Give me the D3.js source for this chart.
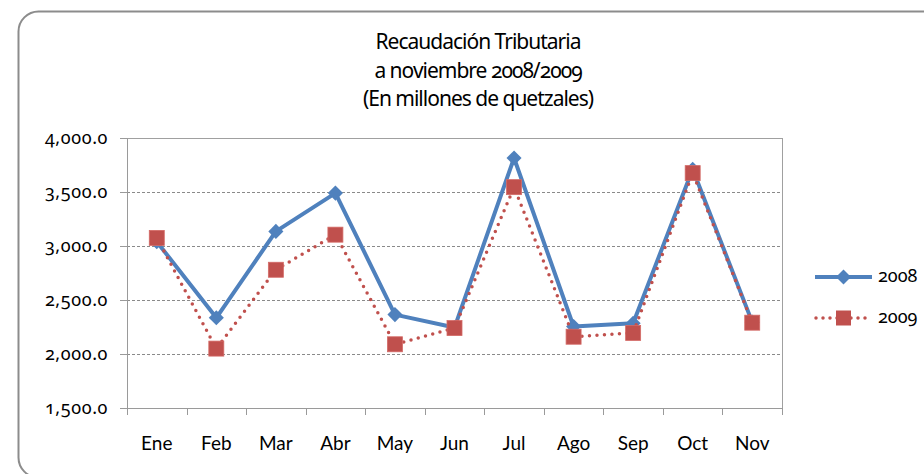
<!DOCTYPE html>
<html>
<head>
<meta charset="utf-8">
<script src="https://cdn.jsdelivr.net/npm/d3@7"></script>
<style>
  body { margin: 0; background: #fff; }
  text { font-family: Lato, "Open Sans", sans-serif; fill: #000; }
  .num { font-family: "Noto Sans", sans-serif; font-variant-numeric: oldstyle-nums; font-feature-settings: "onum"; }
  .title { font-size: 21px; letter-spacing: -1px; }
</style>
</head>
<body>
<div id="chart"></div>
<script>
var svgWidth = 924;
var svgHeight = 474;

var months = ["Ene", "Feb", "Mar", "Abr", "May", "Jun", "Jul", "Ago", "Sep", "Oct", "Nov"];
var values2008 = [3040, 2335, 3135, 3490, 2365, 2245, 3815, 2255, 2285, 3710, 2295];
var values2009 = [3075, 2050, 2780, 3105, 2090, 2240, 3545, 2160, 2195, 3675, 2290];
var yTicks = [1500, 2000, 2500, 3000, 3500, 4000];
var titleLines = ["Recaudación Tributaria", "a noviembre 2008/2009", "(En millones de quetzales)"];

var margin = { top: 138, left: 127, right: 142, bottom: 66 };
var width = svgWidth - margin.left - margin.right;
var height = svgHeight - margin.top - margin.bottom;

var svg = d3.select("#chart")
  .append("svg")
  .attr("width", svgWidth)
  .attr("height", svgHeight);

// rounded frame
svg.append("rect")
  .attr("x", 18.5).attr("y", 11.5)
  .attr("width", 960).attr("height", 466)
  .attr("rx", 20)
  .attr("fill", "none")
  .attr("stroke", "#8c8c8c")
  .attr("stroke-width", 2);

// title
svg.append("g").selectAll("text")
  .data(titleLines)
  .join("text")
  .attr("class", "title num")
  .attr("x", 478)
  .attr("y", (d, i) => 49 + i * 28.5)
  .attr("text-anchor", "middle")
  .text(d => d);

var chartGroup = svg.append("g")
  .attr("transform", `translate(${margin.left}, ${margin.top})`);

var xScale = d3.scaleBand()
  .domain(months)
  .range([0, width]);

var yScale = d3.scaleLinear()
  .domain([1500, 4000])
  .range([height, 0]);

// gridlines
chartGroup.append("g")
  .selectAll("line")
  .data(yTicks.filter(d => d > 1500 && d < 4000))
  .join("line")
  .attr("x1", 0).attr("x2", width)
  .attr("y1", d => Math.round(yScale(d)) + 0.5)
  .attr("y2", d => Math.round(yScale(d)) + 0.5)
  .attr("stroke", "#8a8a8a")
  .attr("stroke-dasharray", "3,2");

// plot area border
chartGroup.append("rect")
  .attr("x", 0.5).attr("y", 0.5)
  .attr("width", width).attr("height", height)
  .attr("fill", "none")
  .attr("stroke", "#a0a0a0");

// y axis
var leftAxis = d3.axisLeft(yScale)
  .tickValues(yTicks)
  .tickSize(7)
  .tickPadding(12)
  .tickFormat(d3.format(",.1f"));

var yAxisG = chartGroup.append("g").call(leftAxis);
yAxisG.select(".domain").attr("stroke", "#9a9a9a");
yAxisG.selectAll(".tick line").attr("stroke", "#9a9a9a");
yAxisG.selectAll(".tick text")
  .attr("class", "num")
  .style("font-size", "18px")
  .style("letter-spacing", "0.6px")
  .attr("dy", "0.28em");

// x axis with ticks between categories
var bottomAxis = d3.axisBottom(xScale).tickSize(0).tickPadding(29);
var xAxisG = chartGroup.append("g")
  .attr("transform", `translate(0, ${height})`)
  .call(bottomAxis);
xAxisG.select(".domain").attr("stroke", "#9a9a9a");
xAxisG.selectAll(".tick text")
  .style("font-family", "Lato, sans-serif")
  .style("font-size", "19px");

chartGroup.append("g")
  .selectAll("line")
  .data(d3.range(months.length + 1))
  .join("line")
  .attr("x1", i => Math.round(i * xScale.step()) + 0.5)
  .attr("x2", i => Math.round(i * xScale.step()) + 0.5)
  .attr("y1", height).attr("y2", height + 7)
  .attr("stroke", "#9a9a9a");

var cx = d => xScale(d) + xScale.bandwidth() / 2;

var line = d3.line()
  .x((d, i) => cx(months[i]))
  .y(d => yScale(d));

// 2008 series
chartGroup.append("path")
  .datum(values2008)
  .attr("d", line)
  .attr("fill", "none")
  .attr("stroke", "#4f81bd")
  .attr("stroke-width", 4)
  .attr("stroke-linejoin", "round");

var diamond = d3.symbol().type(d3.symbolDiamond2).size(120);

chartGroup.append("g")
  .selectAll("path")
  .data(values2008)
  .join("path")
  .attr("d", diamond)
  .attr("transform", (d, i) => `translate(${cx(months[i])}, ${yScale(d)}) scale(1.1,1.1)`)
  .attr("fill", "#4f81bd");

// 2009 series
chartGroup.append("path")
  .datum(values2009)
  .attr("d", line)
  .attr("fill", "none")
  .attr("stroke", "#c0504d")
  .attr("stroke-width", 3.5)
  .attr("stroke-linecap", "round")
  .attr("stroke-dasharray", "0,7.5");

chartGroup.append("g")
  .selectAll("rect")
  .data(values2009)
  .join("rect")
  .attr("x", (d, i) => cx(months[i]) - 7.5)
  .attr("y", d => yScale(d) - 7.5)
  .attr("width", 15).attr("height", 15)
  .attr("fill", "#c0504d")
  .attr("stroke", "#d46a66")
  .attr("stroke-width", 0.8);

// legend
var legend = svg.append("g").attr("transform", "translate(815, 0)");
var legendItems = [
  { name: "2008", color: "#4f81bd", y: 277 },
  { name: "2009", color: "#c0504d", y: 318 }
];

legend.append("line")
  .attr("x1", 0).attr("x2", 57)
  .attr("y1", legendItems[0].y).attr("y2", legendItems[0].y)
  .attr("stroke", legendItems[0].color)
  .attr("stroke-width", 4);
legend.append("path")
  .attr("d", diamond)
  .attr("transform", `translate(28.5, ${legendItems[0].y}) scale(1.1,1.1)`)
  .attr("fill", legendItems[0].color);

legend.append("line")
  .attr("x1", 1).attr("x2", 57)
  .attr("y1", legendItems[1].y).attr("y2", legendItems[1].y)
  .attr("stroke", legendItems[1].color)
  .attr("stroke-width", 3.5)
  .attr("stroke-linecap", "round")
  .attr("stroke-dasharray", "0,7");
legend.append("rect")
  .attr("x", 21).attr("y", legendItems[1].y - 7.5)
  .attr("width", 15).attr("height", 15)
  .attr("fill", legendItems[1].color);

legend.selectAll("text")
  .data(legendItems)
  .join("text")
  .attr("class", "num")
  .attr("x", 63)
  .attr("y", d => d.y + 5)
  .style("font-size", "18px")
  .text(d => d.name);
</script>
</body>
</html>
